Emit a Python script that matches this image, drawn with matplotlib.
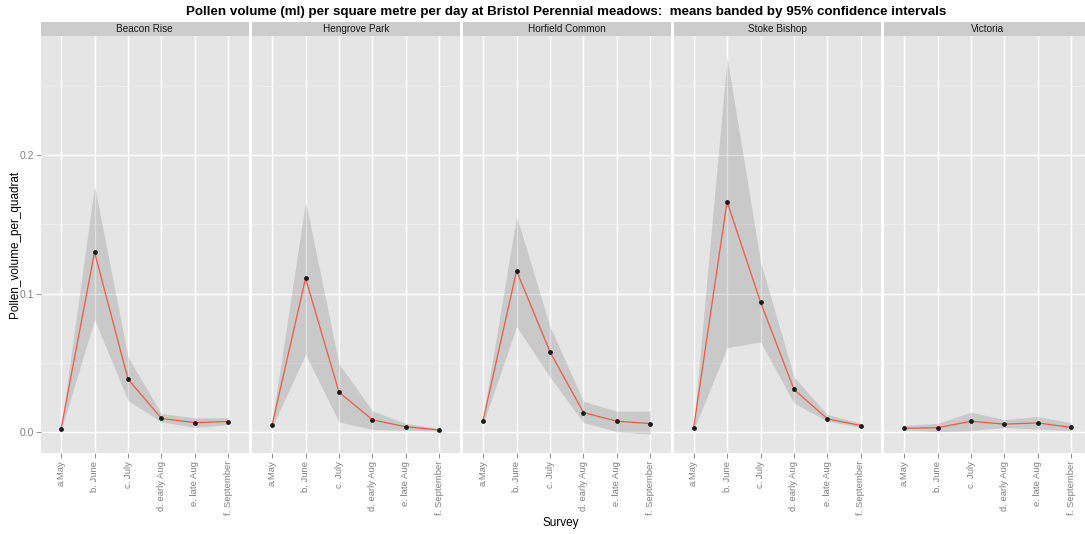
"""Pollen volume per quadrat at Bristol meadows, faceted by site with 95% CI bands."""

import matplotlib

matplotlib.use("Agg")
import matplotlib.pyplot as plt
import numpy as np

plt.rcParams["font.family"] = ["Liberation Sans", "DejaVu Sans"]

sites = ["Beacon Rise", "Hengrove Park", "Horfield Common", "Stoke Bishop", "Victoria"]
surveys = ["a.May", "b. June", "c. July", "d. early Aug", "e. late Aug", "f. September"]

# means per survey, one list per site
beacon_mean = [0.002, 0.130, 0.038, 0.0095, 0.0065, 0.0073]
hengrove_mean = [0.0048, 0.111, 0.0285, 0.0085, 0.0035, 0.0012]
horfield_mean = [0.008, 0.1164, 0.0577, 0.0138, 0.0075, 0.0058]
stoke_mean = [0.0024, 0.1665, 0.0938, 0.0305, 0.0092, 0.0044]
victoria_mean = [0.0024, 0.0028, 0.0075, 0.0054, 0.0063, 0.003]

# lower / upper 95% confidence limits
beacon_lo = [0.001, 0.081, 0.0225, 0.007, 0.003, 0.005]
beacon_hi = [0.003, 0.178, 0.054, 0.013, 0.010, 0.010]
hengrove_lo = [0.003, 0.056, 0.007, 0.0015, 0.001, 0.0005]
hengrove_hi = [0.007, 0.1665, 0.049, 0.015, 0.006, 0.002]
horfield_lo = [0.0055, 0.076, 0.0395, 0.0065, 0.0, -0.002]
horfield_hi = [0.0105, 0.156, 0.076, 0.022, 0.0148, 0.0148]
stoke_lo = [0.001, 0.0608, 0.065, 0.0206, 0.0075, 0.003]
stoke_hi = [0.0035, 0.271, 0.123, 0.0395, 0.0124, 0.006]
victoria_lo = [0.0012, 0.0, 0.0007, 0.003, 0.0017, 0.0007]
victoria_hi = [0.0045, 0.006, 0.014, 0.0087, 0.011, 0.0063]

means = [beacon_mean, hengrove_mean, horfield_mean, stoke_mean, victoria_mean]
lowers = [beacon_lo, hengrove_lo, horfield_lo, stoke_lo, victoria_lo]
uppers = [beacon_hi, hengrove_hi, horfield_hi, stoke_hi, victoria_hi]

W, H = 1085, 534
fig = plt.figure(figsize=(W / 100, H / 100), dpi=100)
fig.patch.set_facecolor("white")

panel_left = [41, 252, 463, 673.5, 884]
panel_width = 207.5
panel_top, panel_bottom = 36, 453
strip_top = 21.5

tick_grey = "#7F7F7F"
x = np.arange(1, len(surveys) + 1)

for i, site in enumerate(sites):
    left = panel_left[i] / W
    ax = fig.add_axes([left, 1 - panel_bottom / H, panel_width / W, (panel_bottom - panel_top) / H])
    ax.set_facecolor("#E5E5E5")
    ax.set_xlim(0.4, 6.6)
    ax.set_ylim(-0.0155, 0.2865)
    for spine in ax.spines.values():
        spine.set_visible(False)

    for yv in [0.05, 0.15, 0.25]:
        ax.axhline(yv, color="#F2F2F2", lw=0.5, zorder=0)
    ax.set_yticks([0.0, 0.1, 0.2])
    ax.set_xticks(x)
    ax.grid(True, color="white", lw=1.0, zorder=0)
    ax.set_axisbelow(True)

    ax.fill_between(x, lowers[i], uppers[i], color="black", alpha=0.12, lw=0, zorder=1)
    ax.plot(x, means[i], color="#EE5A45", lw=0.9, zorder=2)
    ax.scatter(x, means[i], s=12, color="#1A1A1A", zorder=3, lw=0)

    ax.set_xticklabels(surveys, rotation=90, fontsize=6.8, color=tick_grey)
    ax.tick_params(axis="x", length=3.5, width=0.6, color=tick_grey, pad=2)
    if i == 0:
        ax.set_yticklabels(["0.0", "0.1", "0.2"], fontsize=7.5, color=tick_grey)
        ax.tick_params(axis="y", length=3.5, width=0.6, color=tick_grey, pad=1.5)
    else:
        ax.tick_params(axis="y", length=0, labelleft=False)

    strip = fig.add_axes([left, 1 - panel_top / H, panel_width / W, (panel_top - strip_top) / H])
    strip.set_facecolor("#CCCCCC")
    strip.set_xticks([])
    strip.set_yticks([])
    for spine in strip.spines.values():
        spine.set_visible(False)
    strip.text(0.5, 0.5, site, ha="center", va="center", fontsize=7.2, color="#1A1A1A",
               transform=strip.transAxes)

fig.text(566 / W, 1 - 12.5 / H, "Pollen volume (ml) per square metre per day at Bristol Perennial meadows:  "
         "means banded by 95% confidence intervals", ha="center", va="center",
         fontsize=9.6, fontweight="bold")
fig.text(15 / W, 1 - 244.5 / H, "Pollen_volume_per_quadrat", rotation=90, ha="center", va="center",
         fontsize=8.5)
fig.text(561 / W, 1 - 523 / H, "Survey", ha="center", va="center", fontsize=8.5)

fig.savefig("out.png", dpi=100)
